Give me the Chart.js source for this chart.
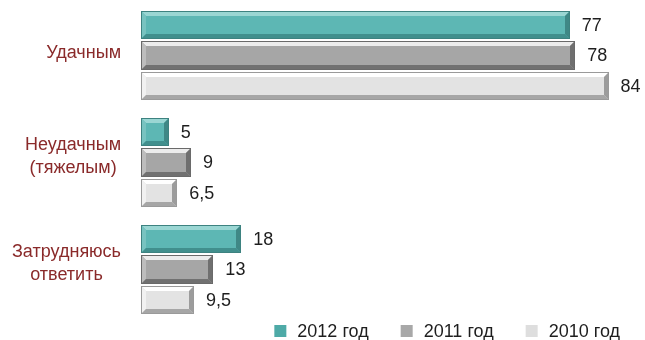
<!DOCTYPE html>
<html>
<head>
<meta charset="utf-8">
<script src="https://cdn.jsdelivr.net/npm/chart.js@4/dist/chart.umd.min.js"></script>
<style>
  body { margin: 0; background: #fff; }
  canvas { display: block; }
</style>
</head>
<body>
<canvas id="myChart" width="645" height="340"></canvas>
<script>
const categories = [['Удачным'], ['Неудачным', '(тяжелым)'], ['Затрудняюсь', 'ответить']];
const seriesNames = ['2012 год', '2011 год', '2010 год'];
const values2012 = [77, 5, 18];
const values2011 = [78, 9, 13];
const values2010 = [84, 6.5, 9.5];

const FONT = '18px "Liberation Sans", Arial, sans-serif';

// colours for the bevelled bars: face, top, left, bottom, right, outline
const bevels = [
  { fill: '#5db7b4', top: '#9ad6d3', left: '#78c3c0', bottom: '#418f8d', right: '#3f8886', edge: '#3d8280', legend: '#4eaaa7' },
  { fill: '#a6a6a6', top: '#ececec', left: '#bdbdbd', bottom: '#717171', right: '#6f6f6f', edge: '#6a6a6a', legend: '#a8a8a8' },
  { fill: '#e3e3e3', top: '#ffffff', left: '#f1f1f1', bottom: '#a6a6a6', right: '#9c9c9c', edge: '#9a9a9a', legend: '#dedede' }
];

function poly(ctx, pts, color) {
  ctx.beginPath();
  ctx.moveTo(pts[0][0], pts[0][1]);
  for (let i = 1; i < pts.length; i++) ctx.lineTo(pts[i][0], pts[i][1]);
  ctx.closePath();
  ctx.fillStyle = color;
  ctx.fill();
}

function drawBevel(ctx, l, t, r, b, c) {
  const d = Math.min(5, (r - l) / 2, (b - t) / 2);
  ctx.fillStyle = c.fill;
  ctx.fillRect(l, t, r - l, b - t);
  poly(ctx, [[l, t], [r, t], [r - d, t + d], [l + d, t + d]], c.top);
  poly(ctx, [[l, t], [l + d, t + d], [l + d, b - d], [l, b]], c.left);
  poly(ctx, [[l, b], [l + d, b - d], [r - d, b - d], [r, b]], c.bottom);
  poly(ctx, [[r, t], [r, b], [r - d, b - d], [r - d, t + d]], c.right);
  ctx.strokeStyle = c.edge;
  ctx.lineWidth = 1;
  ctx.strokeRect(l + 0.5, t + 0.5, r - l - 1, b - t - 1);
}

const bevelBars = {
  id: 'bevelBars',
  afterDatasetsDraw(chart) {
    const ctx = chart.ctx;
    ctx.save();
    chart.data.datasets.forEach((ds, i) => {
      const meta = chart.getDatasetMeta(i);
      meta.data.forEach((el, j) => {
        const p = el.getProps(['x', 'y', 'base', 'height'], true);
        const t = Math.round(p.y - p.height / 2);
        const b = Math.round(p.y + p.height / 2);
        drawBevel(ctx, Math.round(p.base), t, Math.round(p.x), b, bevels[i]);

        // value label to the right of the bar
        ctx.font = FONT;
        ctx.fillStyle = '#1e1e1e';
        ctx.textAlign = 'left';
        ctx.textBaseline = 'middle';
        ctx.fillText(String(ds.data[j]).replace('.', ','), p.x + 12, p.y + 1);
      });
    });
    ctx.restore();
  }
};

const categoryLabels = {
  id: 'categoryLabels',
  afterDraw(chart) {
    const ctx = chart.ctx;
    const y = chart.scales.y;
    ctx.save();
    ctx.font = FONT;
    ctx.fillStyle = '#8a2a2a';
    ctx.textAlign = 'center';
    ctx.textBaseline = 'middle';
    const lh = 23;
    categories.forEach((lines, i) => {
      const cy = y.getPixelForValue(i) - (lines.length > 1 ? 6 : 2);
      const w = Math.max(...lines.map(s => ctx.measureText(s).width));
      const cx = 121 - w / 2;
      lines.forEach((s, k) => {
        ctx.fillText(s, cx, cy + (k - (lines.length - 1) / 2) * lh);
      });
    });
    ctx.restore();
  }
};

const bottomLegend = {
  id: 'bottomLegend',
  afterDraw(chart) {
    const ctx = chart.ctx;
    ctx.save();
    ctx.font = FONT;
    ctx.textBaseline = 'middle';
    ctx.textAlign = 'left';
    const box = 12, gap = 11, spacing = 32, yc = 331;
    const widths = chart.data.datasets.map(ds => ctx.measureText(ds.label).width);
    const total = widths.reduce((a, w) => a + box + gap + w, 0) + spacing * (widths.length - 1);
    let x = 620 - total;
    chart.data.datasets.forEach((ds, i) => {
      ctx.fillStyle = bevels[i].legend;
      ctx.fillRect(x, yc - box / 2, box, box);
      ctx.fillStyle = '#1e1e1e';
      ctx.fillText(ds.label, x + box + gap, yc + 1);
      x += box + gap + widths[i] + spacing;
    });
    ctx.restore();
  }
};

new Chart(document.getElementById('myChart'), {
  type: 'bar',
  data: {
    labels: categories,
    datasets: [
      { label: seriesNames[0], data: values2012, backgroundColor: 'rgba(0,0,0,0)' },
      { label: seriesNames[1], data: values2011, backgroundColor: 'rgba(0,0,0,0)' },
      { label: seriesNames[2], data: values2010, backgroundColor: 'rgba(0,0,0,0)' }
    ]
  },
  options: {
    indexAxis: 'y',
    responsive: false,
    animation: false,
    layout: { padding: { left: 141, right: 3, top: 2, bottom: 17 } },
    datasets: { bar: { categoryPercentage: 0.86, barPercentage: 0.92 } },
    plugins: {
      legend: { display: false },
      tooltip: { enabled: false }
    },
    scales: {
      x: { display: false, min: 0, max: 90 },
      y: { display: false }
    }
  },
  plugins: [bevelBars, categoryLabels, bottomLegend]
});
</script>
</body>
</html>
